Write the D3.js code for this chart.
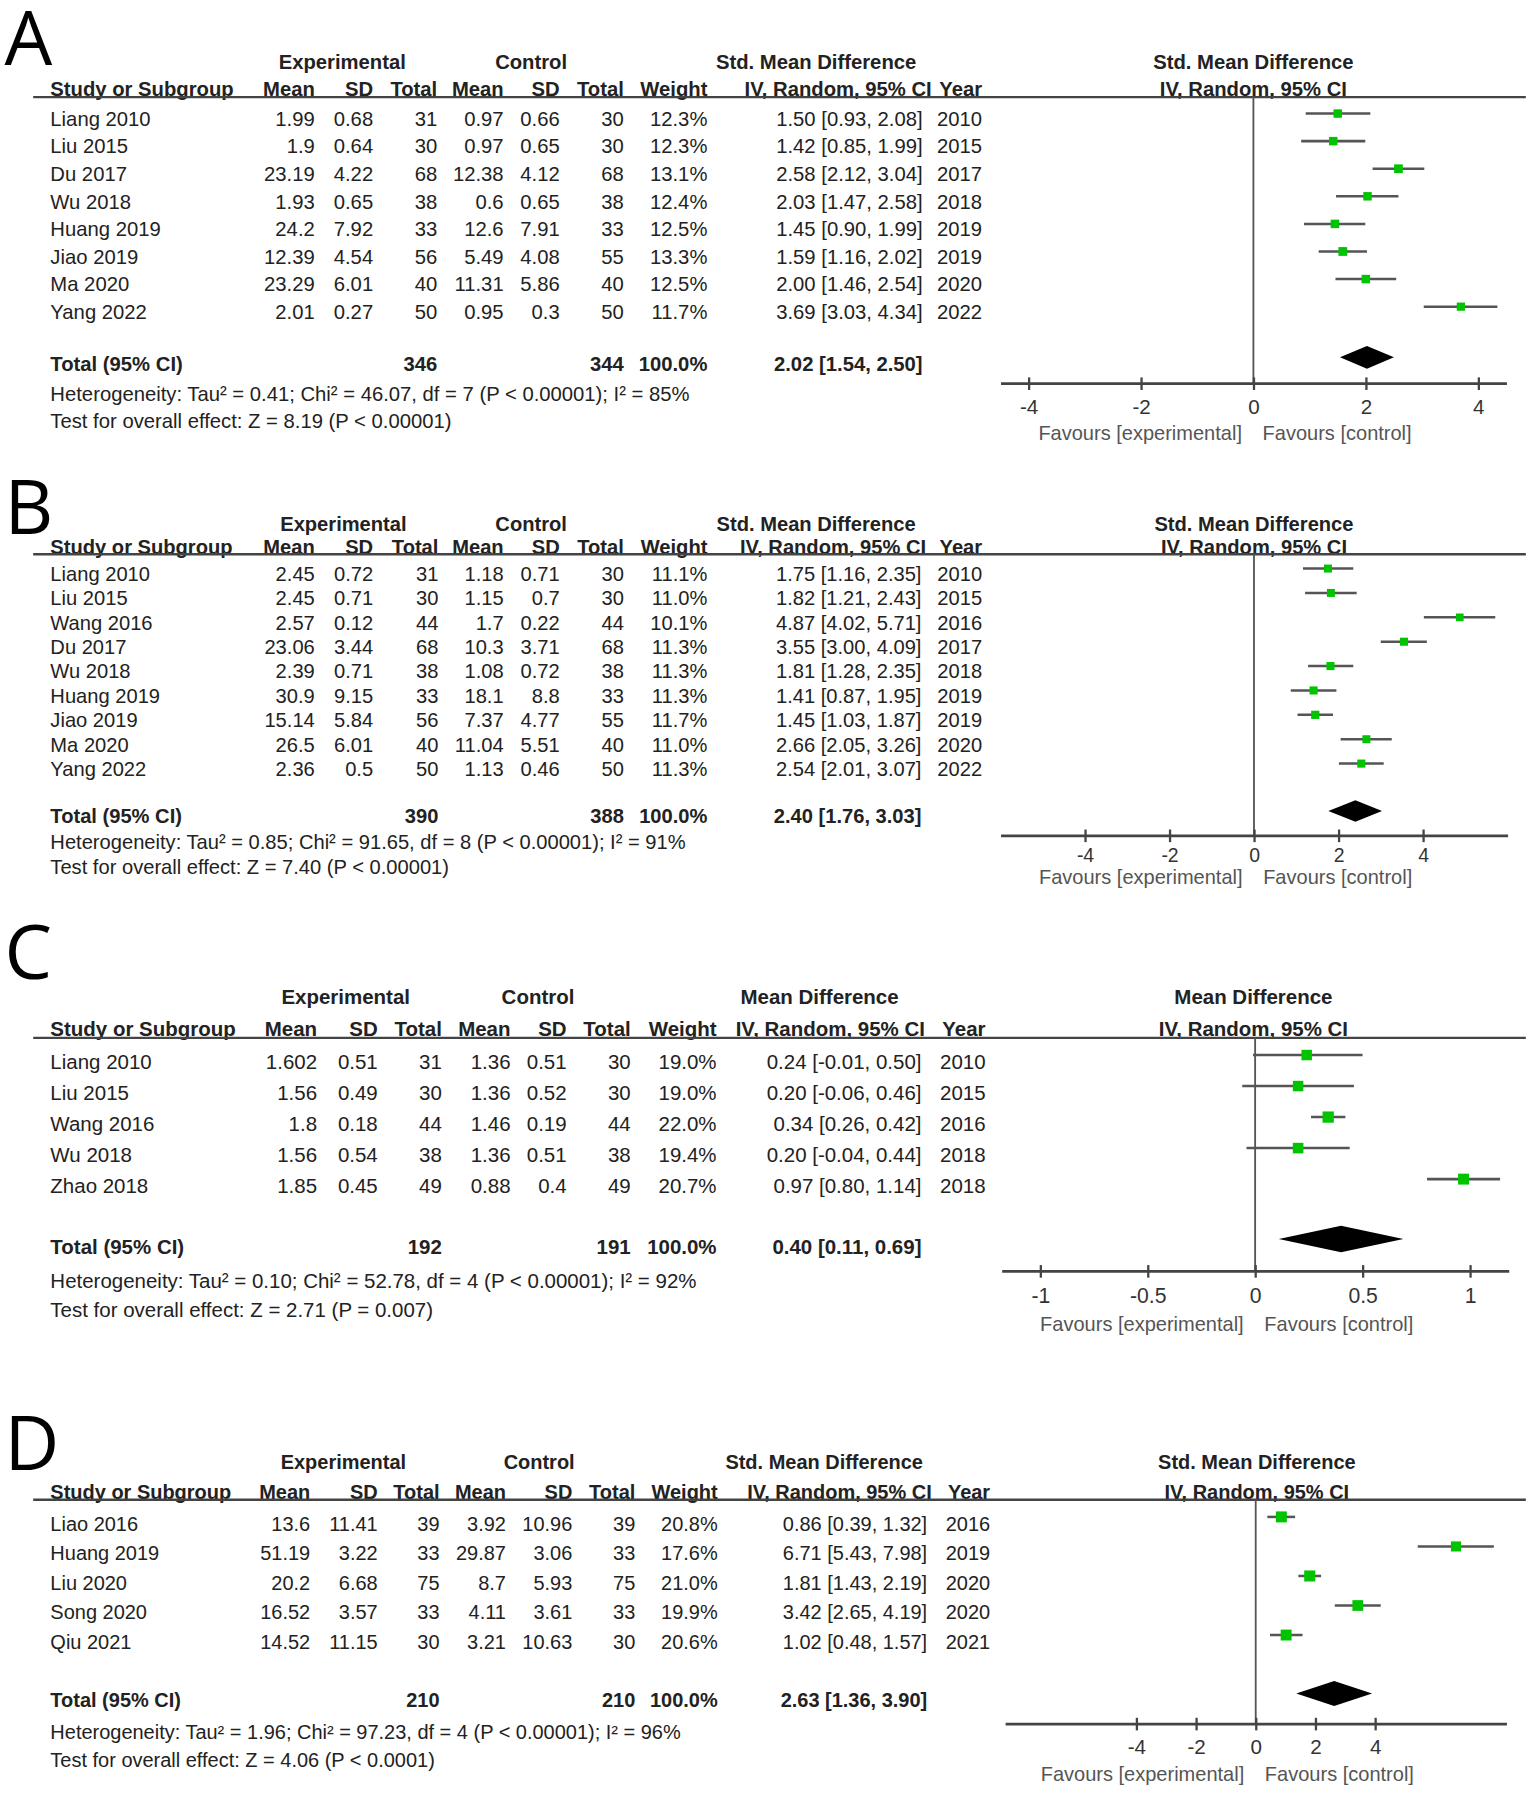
<!DOCTYPE html>
<html><head><meta charset="utf-8">
<script src="https://cdn.jsdelivr.net/npm/d3@7"></script>
<style>body{margin:0;background:#fff} text{font-family:"Liberation Sans", Arial, sans-serif;}</style>
</head><body>
<svg id="chart" width="1535" height="1793" viewBox="0 0 1341 1566"></svg>
<script>
// ---------- Panel A ----------
const studiesA = ["Liang 2010","Liu 2015","Du 2017","Wu 2018","Huang 2019","Jiao 2019","Ma 2020","Yang 2022"];
const expMeanA = [1.99,1.9,23.19,1.93,24.2,12.39,23.29,2.01];
const expSDA = [0.68,0.64,4.22,0.65,7.92,4.54,6.01,0.27];
const expNA = [31,30,68,38,33,56,40,50];
const ctlMeanA = [0.97,0.97,12.38,0.6,12.6,5.49,11.31,0.95];
const ctlSDA = [0.66,0.65,4.12,0.65,7.91,4.08,5.86,0.3];
const ctlNA = [30,30,68,38,33,55,40,50];
const weightA = [12.3,12.3,13.1,12.4,12.5,13.3,12.5,11.7];
const estA = [1.50,1.42,2.58,2.03,1.45,1.59,2.00,3.69];
const lowA = [0.93,0.85,2.12,1.47,0.90,1.16,1.46,3.03];
const highA = [2.08,1.99,3.04,2.58,1.99,2.02,2.54,4.34];
const yearA = [2010,2015,2017,2018,2019,2019,2020,2022];
const totalA = [346,344,2.02,1.54,2.50];
const hetA = "Heterogeneity: Tau² = 0.41; Chi² = 46.07, df = 7 (P < 0.00001); I² = 85%";
const testA = "Test for overall effect: Z = 8.19 (P < 0.00001)";
const ticksA = [-4,-2,0,2,4];
const tickLabelsA = ["-4","-2","0","2","4"];

// ---------- Panel B ----------
const studiesB = ["Liang 2010","Liu 2015","Wang 2016","Du 2017","Wu 2018","Huang 2019","Jiao 2019","Ma 2020","Yang 2022"];
const expMeanB = [2.45,2.45,2.57,23.06,2.39,30.9,15.14,26.5,2.36];
const expSDB = [0.72,0.71,0.12,3.44,0.71,9.15,5.84,6.01,0.5];
const expNB = [31,30,44,68,38,33,56,40,50];
const ctlMeanB = [1.18,1.15,1.7,10.3,1.08,18.1,7.37,11.04,1.13];
const ctlSDB = [0.71,0.7,0.22,3.71,0.72,8.8,4.77,5.51,0.46];
const ctlNB = [30,30,44,68,38,33,55,40,50];
const weightB = [11.1,11.0,10.1,11.3,11.3,11.3,11.7,11.0,11.3];
const estB = [1.75,1.82,4.87,3.55,1.81,1.41,1.45,2.66,2.54];
const lowB = [1.16,1.21,4.02,3.00,1.28,0.87,1.03,2.05,2.01];
const highB = [2.35,2.43,5.71,4.09,2.35,1.95,1.87,3.26,3.07];
const yearB = [2010,2015,2016,2017,2018,2019,2019,2020,2022];
const totalB = [390,388,2.40,1.76,3.03];
const hetB = "Heterogeneity: Tau² = 0.85; Chi² = 91.65, df = 8 (P < 0.00001); I² = 91%";
const testB = "Test for overall effect: Z = 7.40 (P < 0.00001)";
const ticksB = [-4,-2,0,2,4];
const tickLabelsB = ["-4","-2","0","2","4"];

// ---------- Panel C ----------
const studiesC = ["Liang 2010","Liu 2015","Wang 2016","Wu 2018","Zhao 2018"];
const expMeanC = [1.602,1.56,1.8,1.56,1.85];
const expSDC = [0.51,0.49,0.18,0.54,0.45];
const expNC = [31,30,44,38,49];
const ctlMeanC = [1.36,1.36,1.46,1.36,0.88];
const ctlSDC = [0.51,0.52,0.19,0.51,0.4];
const ctlNC = [30,30,44,38,49];
const weightC = [19.0,19.0,22.0,19.4,20.7];
const estC = [0.24,0.20,0.34,0.20,0.97];
const lowC = [-0.01,-0.06,0.26,-0.04,0.80];
const highC = [0.50,0.46,0.42,0.44,1.14];
const yearC = [2010,2015,2016,2018,2018];
const totalC = [192,191,0.40,0.11,0.69];
const hetC = "Heterogeneity: Tau² = 0.10; Chi² = 52.78, df = 4 (P < 0.00001); I² = 92%";
const testC = "Test for overall effect: Z = 2.71 (P = 0.007)";
const ticksC = [-1,-0.5,0,0.5,1];
const tickLabelsC = ["-1","-0.5","0","0.5","1"];

// ---------- Panel D ----------
const studiesD = ["Liao 2016","Huang 2019","Liu 2020","Song 2020","Qiu 2021"];
const expMeanD = [13.6,51.19,20.2,16.52,14.52];
const expSDD = [11.41,3.22,6.68,3.57,11.15];
const expND = [39,33,75,33,30];
const ctlMeanD = [3.92,29.87,8.7,4.11,3.21];
const ctlSDD = [10.96,3.06,5.93,3.61,10.63];
const ctlND = [39,33,75,33,30];
const weightD = [20.8,17.6,21.0,19.9,20.6];
const estD = [0.86,6.71,1.81,3.42,1.02];
const lowD = [0.39,5.43,1.43,2.65,0.48];
const highD = [1.32,7.98,2.19,4.19,1.57];
const yearD = [2016,2019,2020,2020,2021];
const totalD = [210,210,2.63,1.36,3.90];
const hetD = "Heterogeneity: Tau² = 1.96; Chi² = 97.23, df = 4 (P < 0.00001); I² = 96%";
const testD = "Test for overall effect: Z = 4.06 (P < 0.0001)";
const ticksD = [-4,-2,0,2,4];
const tickLabelsD = ["-4","-2","0","2","4"];

const methodLabels = ["Std. Mean Difference","Std. Mean Difference","Mean Difference","Std. Mean Difference"];

// ---------- layout (positions only) ----------
const panels = [
  {letter:"A", method:methodLabels[0], studies:studiesA, em:expMeanA, es:expSDA, en:expNA, cm:ctlMeanA, cs:ctlSDA, cn:ctlNA, w:weightA, est:estA, lo:lowA, hi:highA, yr:yearA, tot:totalA, het:hetA, test:testA, ticks:ticksA, tl:tickLabelsA,
   L:{letterBase:57, fs:17.7, tfs:18, h1:54, h2:77.2, line:84.6, row0:103.4, step:24.1, total:317.4, het:343.6, test:367.5, axis:334.5, tickLbl:355, fav:378,
      cols:[275,326,382,440,489,545,618], ci:806, hdrCI:814, year:858, expC:299, ctlC:464, methC:713, plotC:1095, range:[874,1316], domain:[-4.5,4.5], markOff:4.4, diaOff:5.4, diaH:10}},
  {letter:"B", method:methodLabels[1], studies:studiesB, em:expMeanB, es:expSDB, en:expNB, cm:ctlMeanB, cs:ctlSDB, cn:ctlNB, w:weightB, est:estB, lo:lowB, hi:highB, yr:yearB, tot:totalB, het:hetB, test:testB, ticks:ticksB, tl:tickLabelsB,
   L:{letterBase:466, fs:17.6, tfs:17, h1:457, h2:477.6, line:484, row0:500.9, step:21.3, total:712.3, het:735.2, test:757, axis:729.5, tickLbl:747, fav:766,
      cols:[275,326,383,440,489,545,618], ci:805, hdrCI:809, year:858, expC:300, ctlC:464, methC:713, plotC:1095.5, range:[874,1317], domain:[-6,6], markOff:4.4, diaOff:4, diaH:9.4}},
  {letter:"C", method:methodLabels[2], studies:studiesC, em:expMeanC, es:expSDC, en:expNC, cm:ctlMeanC, cs:ctlSDC, cn:ctlNC, w:weightC, est:estC, lo:lowC, hi:highC, yr:yearC, tot:totalC, het:hetC, test:testC, ticks:ticksC, tl:tickLabelsC,
   L:{letterBase:855, fs:17.9, tfs:18.5, h1:870.7, h2:898.3, line:906.5, row0:927.5, step:27.1, total:1089.2, het:1118.3, test:1143.5, axis:1110, tickLbl:1131.5, fav:1156,
      cols:[277,330,386,446,495,551,626], ci:805, hdrCI:808, year:861, expC:302, ctlC:470, methC:716, plotC:1095, range:[875,1318], domain:[-1.18,1.18], markOff:6, diaOff:7, diaH:11.6}},
  {letter:"D", method:methodLabels[3], studies:studiesD, em:expMeanD, es:expSDD, en:expND, cm:ctlMeanD, cs:ctlSDD, cn:ctlND, w:weightD, est:estD, lo:lowD, hi:highD, yr:yearD, tot:totalD, het:hetD, test:testD, ticks:ticksD, tl:tickLabelsD,
   L:{letterBase:1284, fs:17.45, tfs:18, h1:1277, h2:1303, line:1310, row0:1330.8, step:25.8, total:1485, het:1512.7, test:1537.5, axis:1505.5, tickLbl:1526, fav:1549,
      cols:[271,330,384,442,500,555,627], ci:810, hdrCI:814, year:865, expC:300, ctlC:471, methC:720, plotC:1098, range:[878,1316], domain:[-8.4,8.4], markOff:5.8, diaOff:5.7, diaH:11}}
];

const svg = d3.select("#chart");
svg.append("rect").attr("width",1341).attr("height",1566).attr("fill","#fff");

const TEXT = "#222", GREEN = "#00c400", LINE = "#555";

function drawPanel(p) {
  const L = p.L, fs = L.fs;
  const g = svg.append("g");
  const base = c => c + 0.36 * fs;
  const T = (x, y, txt, anchor, bold, size, color) => g.append("text")
      .attr("x", x).attr("y", y)
      .attr("text-anchor", anchor || "start")
      .attr("fill", color || TEXT)
      .style("font-size", (size || fs) + "px")
      .style("font-weight", bold ? "bold" : "normal")
      .text(txt);

  // panel letter
  g.append("text").attr("x", 4).attr("y", L.letterBase).text(p.letter)
    .style("font-family", "'Open Sans','DejaVu Sans',sans-serif").style("font-size", "66px").attr("fill", "#000");

  // header row 1
  T(L.expC, base(L.h1), "Experimental", "middle", true);
  T(L.ctlC, base(L.h1), "Control", "middle", true);
  T(L.methC, base(L.h1), p.method, "middle", true);
  T(L.plotC, base(L.h1), p.method, "middle", true);
  // header row 2
  const hy = base(L.h2);
  T(44, hy, "Study or Subgroup", "start", true);
  ["Mean","SD","Total","Mean","SD","Total","Weight"].forEach((h, i) => T(L.cols[i], hy, h, "end", true));
  T(L.hdrCI, hy, "IV, Random, 95% CI", "end", true);
  T(L.year, hy, "Year", "end", true);
  T(L.plotC, hy, "IV, Random, 95% CI", "middle", true);
  g.append("line").attr("x1", 29).attr("x2", 1333).attr("y1", L.line).attr("y2", L.line)
    .attr("stroke", "#444").attr("stroke-width", 2);

  // study rows
  const yRow = d3.scaleLinear().domain([0, 1]).range([L.row0, L.row0 + L.step]);
  const x = d3.scaleLinear().domain(L.domain).range(L.range);
  const size = d3.scaleSqrt().domain([0, 100]).range([0, 21]);

  p.studies.forEach((s, i) => {
    const yc = yRow(i), yb = base(yc);
    T(44, yb, s);
    const vals = [String(p.em[i]), String(p.es[i]), String(p.en[i]), String(p.cm[i]), String(p.cs[i]), String(p.cn[i]), p.w[i].toFixed(1) + "%"];
    vals.forEach((v, j) => T(L.cols[j], yb, v, "end"));
    T(L.ci, yb, p.est[i].toFixed(2) + " [" + p.lo[i].toFixed(2) + ", " + p.hi[i].toFixed(2) + "]", "end");
    T(L.year, yb, String(p.yr[i]), "end");
  });

  // total row
  const tb = base(L.total);
  T(44, tb, "Total (95% CI)", "start", true);
  T(L.cols[2], tb, String(p.tot[0]), "end", true);
  T(L.cols[5], tb, String(p.tot[1]), "end", true);
  T(L.cols[6], tb, "100.0%", "end", true);
  T(L.ci, tb, p.tot[2].toFixed(2) + " [" + p.tot[3].toFixed(2) + ", " + p.tot[4].toFixed(2) + "]", "end", true);
  T(44, base(L.het), p.het);
  T(44, base(L.test), p.test);

  // zero line
  g.append("line").attr("x1", x(0)).attr("x2", x(0)).attr("y1", L.line).attr("y2", L.axis)
    .attr("stroke", LINE).attr("stroke-width", 1.6);

  // CI lines + squares
  const marks = g.append("g");
  p.studies.forEach((s, i) => {
    const ym = yRow(i) - L.markOff;
    marks.append("line").attr("x1", x(p.lo[i])).attr("x2", x(p.hi[i])).attr("y1", ym).attr("y2", ym)
      .attr("stroke", LINE).attr("stroke-width", 2.2);
    const sz = size(p.w[i]);
    marks.append("rect").attr("x", x(p.est[i]) - sz / 2).attr("y", ym - sz / 2).attr("width", sz).attr("height", sz)
      .attr("fill", GREEN);
  });

  // diamond
  const yd = L.total - L.diaOff;
  const dpts = [[x(p.tot[3]), yd], [x(p.tot[2]), yd - L.diaH], [x(p.tot[4]), yd], [x(p.tot[2]), yd + L.diaH]];
  g.append("path").attr("d", d3.line()(dpts) + "Z").attr("fill", "#000");

  // axis
  const ax = g.append("g").attr("transform", `translate(0,${L.axis})`)
    .call(d3.axisBottom(x).tickValues(p.ticks).tickFormat((d, i) => p.tl[i]).tickSize(6).tickSizeOuter(0));
  ax.select(".domain").attr("stroke", "#444").attr("stroke-width", 2.4);
  ax.selectAll(".tick line").attr("y1", -5).attr("y2", 6).attr("stroke", "#444").attr("stroke-width", 2);
  ax.selectAll(".tick text").attr("y", L.tickLbl - L.axis + 0.36 * L.tfs).attr("dy", null)
    .style("font-size", L.tfs + "px").style("font-family", "'Liberation Sans', Arial, sans-serif").attr("fill", "#333");

  // favours labels
  T(x(0) - 10, base(L.fav), "Favours [experimental]", "end", false, 17.5, "#555");
  T(x(0) + 8, base(L.fav), "Favours [control]", "start", false, 17.5, "#555");
}

panels.forEach(drawPanel);
</script>
</body></html>
